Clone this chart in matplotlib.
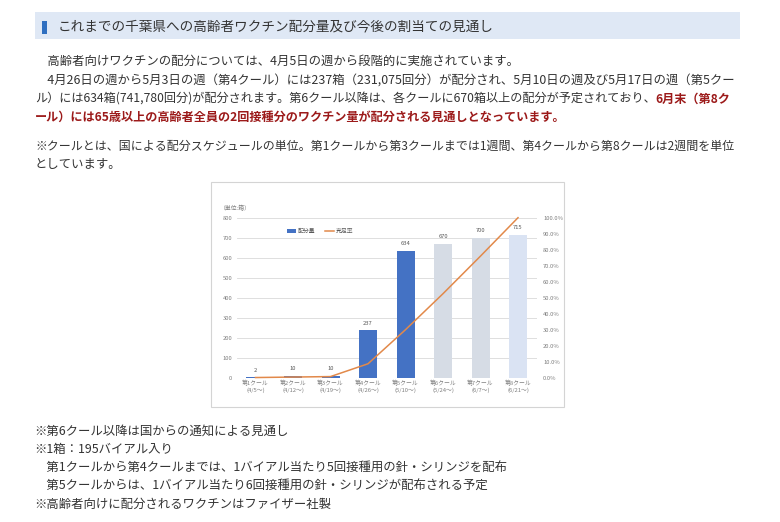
import matplotlib
matplotlib.use("Agg")
import matplotlib.pyplot as plt
from matplotlib.patches import Rectangle, Patch
from matplotlib.lines import Line2D
from matplotlib.ticker import FuncFormatter

plt.rcParams['font.family'] = ['Noto Sans CJK JP', 'DejaVu Sans']

# ---------------- data ----------------
categories = ["第1クール\n(4/5～)", "第2クール\n(4/12～)", "第3クール\n(4/19～)", "第4クール\n(4/26～)",
              "第5クール\n(5/10～)", "第6クール\n(5/24～)", "第7クール\n(6/7～)", "第8クール\n(6/21～)"]
allocation = [2, 10, 10, 237, 634, 670, 700, 715]
fill_rate = [0.1, 0.4, 0.7, 8.7, 30.0, 52.5, 76.0, 100.0]
bar_colors = ["#4472C4"] * 5 + ["#D6DCE5", "#D6DCE5", "#DAE3F3"]
left_ticks = list(range(0, 801, 100))
right_ticks = [i / 10 for i in range(0, 11)]

title = "これまでの千葉県への高齢者ワクチン配分量及び今後の割当ての見通し"
para1 = "　高齢者向けワクチンの配分については、4月5日の週から段階的に実施されています。"
para2 = "　4月26日の週から5月3日の週（第4クール）には237箱（231,075回分）が配分され、5月10日の週及び5月17日の週（第5クー"
para3a = "ル）には634箱(741,780回分)が配分されます。第6クール以降は、各クールに670箱以上の配分が予定されており、"
para3b = "6月末（第8ク"
para4 = "ール）には65歳以上の高齢者全員の2回接種分のワクチン量が配分される見通しとなっています。"
note1a = "※クールとは、国による配分スケジュールの単位。第1クールから第3クールまでは1週間、第4クールから第8クールは2週間を単位"
note1b = "としています。"
notes_bottom = ["※第6クール以降は国からの通知による見通し",
                "※1箱：195バイアル入り",
                "　第1クールから第4クールまでは、1バイアル当たり5回接種用の針・シリンジを配布",
                "　第5クールからは、1バイアル当たり6回接種用の針・シリンジが配布される予定",
                "※高齢者向けに配分されるワクチンはファイザー社製"]

W, H = 780, 522
fig = plt.figure(figsize=(W / 100, H / 100), dpi=100)
fig.patch.set_facecolor("white")
renderer = fig.canvas.get_renderer()


def fx(x):
    return x / W


def fy(y):
    return 1 - y / H


TXT = "#333333"
RED = "#9c1a1a"


def put(x, y, s, size, color=TXT, weight="normal", right=None):
    t = fig.text(fx(x), fy(y), s, fontsize=size, color=color, weight=weight,
                 ha="left", va="center")
    if right is not None:
        bb = t.get_window_extent(renderer)
        size = size * (right - x) / bb.width
        t.set_fontsize(size)
    return t, size


def right_px(t):
    bb = t.get_window_extent(renderer)
    return bb.x1


# header band
fig.add_artist(Rectangle((fx(35), fy(39.3)), (740 - 35) / W, (39.3 - 11.7) / H,
                         transform=fig.transFigure, facecolor="#dfe8f5", edgecolor="none", zorder=-2))
fig.add_artist(Rectangle((fx(42), fy(34)), 4.5 / W, 13.5 / H,
                         transform=fig.transFigure, facecolor="#2f6fc0", edgecolor="none", zorder=-1))
put(58, 26.5, title, 10, right=492)

# paragraphs
_, fs = put(35, 80.5, para2, 8.8, right=735)
put(35, 61, para1, fs)
# line 3: black + red
ta, fsa = put(35, 99, para3a, fs)
tb, _ = put(0, 99, para3b, fs, color=RED, weight="bold")
total = (right_px(ta) - fx(35) * W) + tb.get_window_extent(renderer).width
scale = (732.5 - 35) / total
fs3 = fs * scale
ta.set_fontsize(fs3)
tb.set_fontsize(fs3)
tb.set_x(right_px(ta) / W)
put(35, 117.5, para4, fs3, color=RED, weight="bold")
put(35, 146, note1a, fs, right=734)
put(35, 164.5, note1b, fs)

ys = [431, 449.5, 467.5, 486, 504.5]
for yy, s in zip(ys, notes_bottom):
    put(34, yy, s, fs)

# chart box (behind axes)
fig.add_artist(Rectangle((fx(211), fy(406.5)), (564 - 211) / W, (406.5 - 182) / H,
                         transform=fig.transFigure, facecolor="white", edgecolor="#d4d4d4", lw=0.8,
                         zorder=-2))

# chart
ax = fig.add_axes([fx(236.75), fy(377.7), 300 / W, 160 / H])
x = list(range(len(categories)))
ax.bar(x, allocation, width=0.48, color=bar_colors, zorder=2)
ax.set_xlim(-0.5, len(categories) - 0.5)
ax.set_ylim(0, 800)
ax.set_yticks(left_ticks)
ax.set_xticks(x)
ax.set_xticklabels(categories, linespacing=1.45)
ax.grid(axis="y", color="#d9d9d9", lw=0.6, zorder=0)
ax.set_axisbelow(True)
for sp in ax.spines.values():
    sp.set_visible(False)
ax.tick_params(axis="both", length=0, labelsize=4.2, colors="#7f7f7f")
ax.tick_params(axis="y", pad=3.2)
ax.tick_params(axis="x", pad=1.6)
ax.patch.set_alpha(0)
for i, v in enumerate(allocation):
    ax.annotate(str(v), (i, v), xytext=(0, 5), textcoords="offset points",
                ha="center", va="center", fontsize=4.2, color="#595959")

ax2 = ax.twinx()
ax2.set_ylim(0, 1.0)
ax2.set_yticks(right_ticks)
ax2.yaxis.set_major_formatter(FuncFormatter(lambda v, p: f"{v * 100:.1f}%"))
for sp in ax2.spines.values():
    sp.set_visible(False)
ax2.tick_params(axis="y", length=0, labelsize=4.2, colors="#7f7f7f", pad=4.5)
ax2.plot(x, [r / 100 for r in fill_rate], color="#e2894a", lw=1.1, clip_on=False, zorder=3)

fig.text(fx(220), fy(208), "（単位:箱）", fontsize=4.2, color="#7f7f7f", ha="left", va="center")
handles = [Patch(facecolor="#4472C4", edgecolor="none"), Line2D([], [], color="#e2894a", lw=1.1)]
fig.legend(handles, ["配分量", "充足率"], loc="center", bbox_to_anchor=(fx(320), fy(231.7)),
           ncol=2, frameon=False, fontsize=4.2, handlelength=1.6, handleheight=0.6,
           columnspacing=1.6, handletextpad=0.3, labelcolor="#595959")

fig.savefig("out.png", dpi=100)
